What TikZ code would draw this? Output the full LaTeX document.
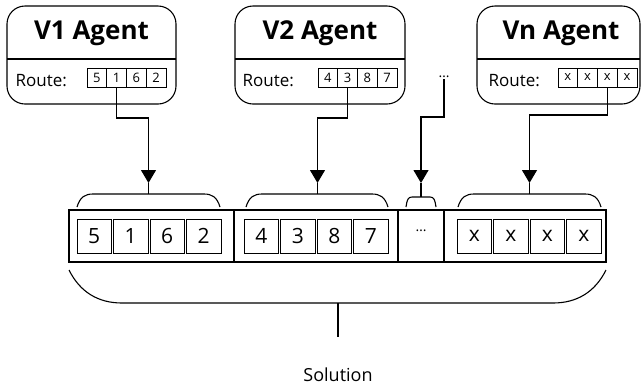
\documentclass[tikz,border=0pt]{standalone}
\usepackage{fontspec}
\setmainfont{Open Sans}
\usetikzlibrary{arrows.meta}

\begin{document}
\begin{tikzpicture}[x=1pt, y=-1pt, line width=1.1pt,
  agentbox/.style={draw, rounded corners=18pt, inner sep=0pt, outer sep=0pt},
  agenttitle/.style={anchor=base, inner sep=0pt, font=\fontsize{26}{26}\selectfont\bfseries},
  routelbl/.style={anchor=base west, inner sep=0pt, font=\fontsize{17}{17}\selectfont},
  rcell/.style={draw, line width=0.9pt, minimum width=19.75pt, minimum height=19pt, inner sep=0pt, outer sep=0pt, font=\fontsize{13}{13}\selectfont},
  cell/.style={draw, line width=0.9pt, minimum width=34.5pt, minimum height=34pt, inner sep=0pt, outer sep=0pt, font=\fontsize{21}{21}\selectfont},
  link/.style={line width=1.1pt, -{Triangle[width=15pt,length=13pt]}},
  brace/.style={line width=1.1pt},
]
\useasboundingbox (0,0) rectangle (642,384);

% ---- agent cards ----
\node[agentbox, minimum width=169pt, minimum height=98pt] (a1) at (91.5,55) {};
\node[agentbox, minimum width=170pt, minimum height=98pt] (a2) at (320,55) {};
\node[agentbox, minimum width=163pt, minimum height=98pt] (an) at (558.5,55) {};
\foreach \a in {a1,a2,an} \draw (\a.west |- 0,59) -- (\a.east |- 0,59);

\node[agenttitle] (t1) at (91.5,39) {V1 Agent};
\node[agenttitle] (t2) at (320,39) {V2 Agent};
\node[agenttitle] (tn) at (561,39) {Vn Agent};

\node[routelbl] (l1) at (15,86) {Route:};
\node[routelbl] (l2) at (242,86) {Route:};
\node[routelbl] (ln) at (488,86) {Route:};

\foreach \v [count=\i] in {5,1,6,2}
  \node[rcell] (r1-\i) at ({87+9.875+(\i-1)*19.75},77.5) {\v};
\foreach \v [count=\i] in {4,3,8,7}
  \node[rcell] (r2-\i) at ({318+9.875+(\i-1)*19.75},77.5) {\v};
\foreach \v [count=\i] in {x,x,x,x}
  \node[rcell] (rn-\i) at ({558+9.875+(\i-1)*19.75},77.5) {\v};

\node[inner sep=1pt, font=\fontsize{14}{14}\selectfont] (dots) at (444,77) {…};

% ---- solution vector ----
\node[draw, line width=1.4pt, minimum width=537pt, minimum height=52pt, inner sep=0pt, outer sep=0pt] (sol) at (337.5,236) {};
\foreach \x in {234,398,444} \draw (\x,210) -- (\x,262);

\foreach \v [count=\i] in {5,1,6,2}
  \node[cell] (c1-\i) at ({77+17.25+(\i-1)*36.5},236) {\v};
\foreach \v [count=\i] in {4,3,8,7}
  \node[cell] (c2-\i) at ({244+17.25+(\i-1)*36.5},236) {\v};
\foreach \v [count=\i] in {x,x,x,x}
  \node[cell] (cn-\i) at ({457+17.25+(\i-1)*36.5},236) {\v};
\node[inner sep=0pt, font=\fontsize{14}{14}\selectfont] (cdots) at (421,231) {…};

% ---- braces over each route segment ----
\coordinate (b1) at (148.5,183);
\coordinate (b2) at (317.5,183);
\coordinate (bd) at (421,183);
\coordinate (bn) at (529.5,183);

\draw[brace] (77,207) .. controls (80,197) and (85,194) .. (93,194) -- (204,194)
  .. controls (212,194) and (217,197) .. (220,207);
\draw[brace] (148.5,194) -- (b1);
\draw[brace] (246,207) .. controls (249,197) and (254,194) .. (262,194) -- (372,194)
  .. controls (380,194) and (385,197) .. (388,207);
\draw[brace] (317.5,194) -- (b2);
\draw[brace] (406,207) .. controls (407,200) and (408,197) .. (412,197) -- (430,197)
  .. controls (434,197) and (435,200) .. (436,207);
\draw[brace] (421,197) -- (bd);
\draw[brace] (458,207) .. controls (461,197) and (466,194) .. (474,194) -- (585,194)
  .. controls (593,194) and (598,197) .. (601,207);
\draw[brace] (529.5,194) -- (bn);

% ---- brace under the whole solution ----
\coordinate (sb) at (338,337);
\draw[brace] (69,270) .. controls (80,292) and (98,303) .. (122,303) -- (553,303)
  .. controls (577,303) and (595,292) .. (606,270);
\draw[brace] (338,303) -- (sb);
\node[anchor=base, inner sep=0pt, font=\fontsize{18}{18}\selectfont] (soltxt) at (338,381) {Solution};

% ---- routes copied into the solution ----
\draw[link] (r1-2.south) -- (r1-2.south |- 0,118) -| (b1);
\draw[link] (r2-2.south) -- (r2-2.south |- 0,118) -| (b2);
\draw[link] (dots.south) -- (dots.south |- 0,117) -| (bd);
\draw[link] (rn-3.south) -- (rn-3.south |- 0,115) -| (bn);
\end{tikzpicture}
\end{document}
